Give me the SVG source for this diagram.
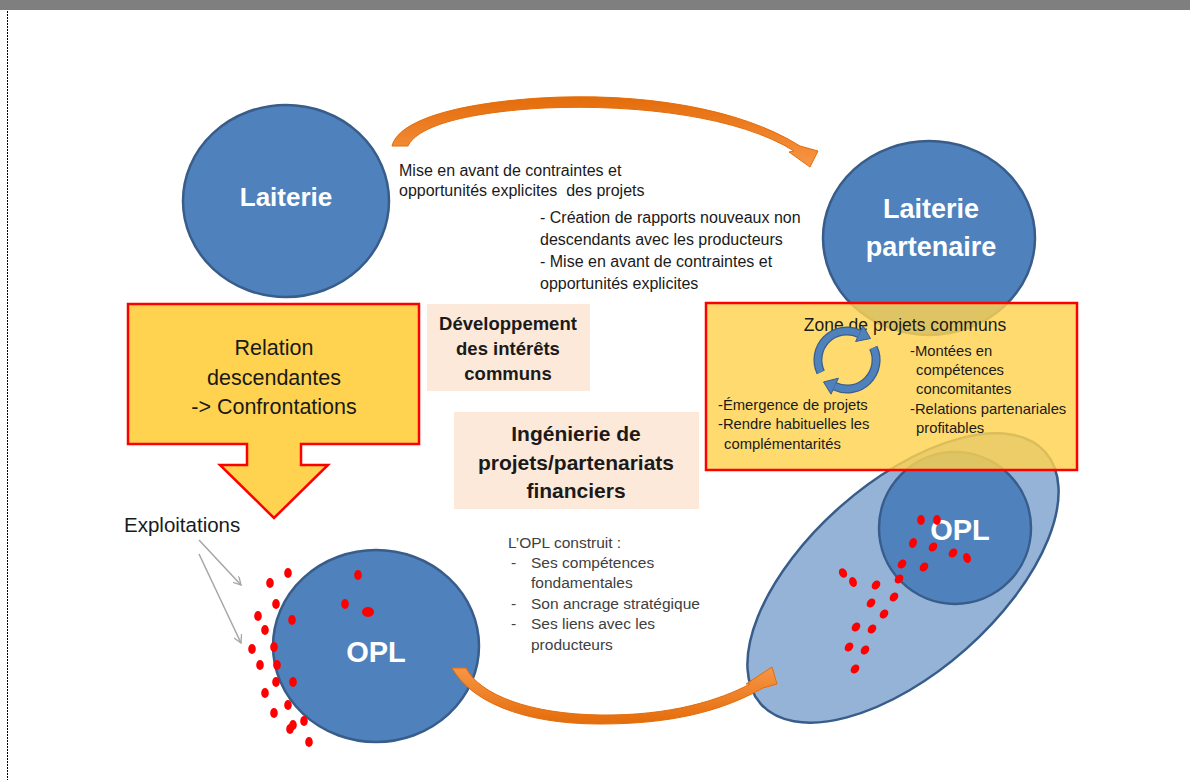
<svg xmlns="http://www.w3.org/2000/svg" width="1190" height="780" viewBox="0 0 1190 780">
<style>
.circ{fill:#4f81bd;stroke:#385d8a;stroke-width:2.5}
.yel{fill:#ffd34f;stroke:#ff0000;stroke-width:2.5}
.pink{fill:#fde9d9}
.t{font-family:"Liberation Sans",Arial,sans-serif;fill:#1a1a1a}
.wt{font-family:"Liberation Sans",Arial,sans-serif;fill:#ffffff;font-weight:bold;text-anchor:middle}
.b{font-weight:bold;text-anchor:middle}
.g{fill:#404040}
.dot{fill:#ff0000}
.orange{stroke:#e46c0a;stroke-width:1}
</style>
<defs>
<linearGradient id="og" x1="0" y1="0" x2="0" y2="1">
<stop offset="0" stop-color="#f79646"/>
<stop offset="1" stop-color="#e46c0a"/>
</linearGradient>
<linearGradient id="og2" x1="0" y1="0" x2="0" y2="1">
<stop offset="0" stop-color="#e46c0a"/>
<stop offset="1" stop-color="#f79646"/>
</linearGradient>
<marker id="ga" viewBox="0 0 10 10" refX="9" refY="5" markerWidth="9" markerHeight="9" markerUnits="userSpaceOnUse" orient="auto">
<path d="M0,0 L9,5 L0,10" fill="none" stroke="#a6a6a6" stroke-width="1.5"/>
</marker>
</defs>

<rect x="0" y="0" width="1190" height="10" fill="#7f7f7f"/>
<line x1="7.5" y1="11" x2="7.5" y2="780" stroke="#000" stroke-width="1" stroke-dasharray="2,1"/>

<g id="laiterie">
<ellipse class="circ" cx="286" cy="201" rx="103" ry="96"/>
<text class="wt" x="286" y="206" font-size="26">Laiterie</text>
</g>

<g id="laiterie-partenaire">
<ellipse class="circ" cx="929" cy="238" rx="106" ry="97"/>
<text class="wt" x="931" y="218" font-size="27">Laiterie</text>
<text class="wt" x="931" y="256" font-size="27">partenaire</text>
</g>

<g id="opl-gauche">
<ellipse class="circ" cx="376" cy="646" rx="103" ry="96"/>
<text class="wt" x="376" y="662" font-size="29">OPL</text>
</g>

<g id="opl-droite">
<ellipse cx="903" cy="578" rx="190" ry="95" transform="rotate(-41.5 903 578)" fill="#95b3d7" stroke="#385d8a" stroke-width="2.5"/>
<ellipse class="circ" cx="955" cy="528" rx="76" ry="76"/>
<text class="wt" x="960" y="540" font-size="29">OPL</text>
</g>

<g id="relation">
<path class="yel" d="M128,304 H419 V444 H301 V465 H328 L274,518 L220,465 H247 V444 H128 Z"/>
<text class="t" x="274" y="355" font-size="21.5" text-anchor="middle">Relation</text>
<text class="t" x="274" y="385" font-size="21.5" text-anchor="middle">descendantes</text>
<text class="t" x="274" y="414" font-size="21.5" text-anchor="middle">-&gt; Confrontations</text>
</g>

<g id="developpement">
<rect class="pink" x="427" y="304" width="163" height="87"/>
<text class="t b" x="508" y="330" font-size="18.5">Développement</text>
<text class="t b" x="508" y="355" font-size="18.5">des intérêts</text>
<text class="t b" x="508" y="380" font-size="18.5">communs</text>
</g>

<g id="ingenierie">
<rect class="pink" x="454" y="412" width="245" height="97"/>
<text class="t b" x="576" y="441" font-size="21">Ingénierie de</text>
<text class="t b" x="576" y="470" font-size="21">projets/partenariats</text>
<text class="t b" x="576" y="498" font-size="21">financiers</text>
</g>

<g id="texte-haut">
<text class="t" x="399" y="176" font-size="16">Mise en avant de contraintes et</text>
<text class="t" x="399" y="196" font-size="16" xml:space="preserve">opportunités explicites  des projets</text>
<text class="t" x="540" y="223" font-size="16">- Création de rapports nouveaux non</text>
<text class="t" x="540" y="245" font-size="16">descendants avec les producteurs</text>
<text class="t" x="540" y="267" font-size="16">- Mise en avant de contraintes et</text>
<text class="t" x="540" y="289" font-size="16">opportunités explicites</text>
</g>

<g id="opl-construit">
<text class="t g" x="508" y="548" font-size="15.5">L’OPL construit :</text>
<text class="t g" x="511" y="568" font-size="15.5">-</text>
<text class="t g" x="531" y="568" font-size="15.5">Ses compétences</text>
<text class="t g" x="531" y="588" font-size="15.5">fondamentales</text>
<text class="t g" x="511" y="609" font-size="15.5">-</text>
<text class="t g" x="531" y="609" font-size="15.5">Son ancrage stratégique</text>
<text class="t g" x="511" y="629" font-size="15.5">-</text>
<text class="t g" x="531" y="629" font-size="15.5">Ses liens avec les</text>
<text class="t g" x="531" y="650" font-size="15.5">producteurs</text>
</g>

<g id="zone">
<rect class="yel" x="706" y="303" width="371" height="167" fill-opacity="0.82"/>
<text class="t" x="905" y="331" font-size="17.5" text-anchor="middle">Zone de projets communs</text>
<g id="cycle" transform="translate(0,3)">
<path d="M820.7,369.3 A29,29 0 0 1 859.3,330.7" fill="none" stroke="#385d8a" stroke-width="9"/>
<path d="M873.3,344.7 A29,29 0 0 1 834.7,383.3" fill="none" stroke="#385d8a" stroke-width="9"/>
<polygon points="855.6,338.5 863,322.6 870.5,335.5" fill="#4f81bd" stroke="#385d8a" stroke-width="1"/>
<polygon points="838.4,375.2 831,391.2 823.5,379" fill="#4f81bd" stroke="#385d8a" stroke-width="1"/>
<path d="M820.7,369.3 A29,29 0 0 1 859.3,330.7" fill="none" stroke="#4f81bd" stroke-width="6.5"/>
<path d="M873.3,344.7 A29,29 0 0 1 834.7,383.3" fill="none" stroke="#4f81bd" stroke-width="6.5"/>
</g>
<text class="t" x="910" y="356" font-size="14.8">-Montées en</text>
<text class="t" x="916" y="375" font-size="14.8">compétences</text>
<text class="t" x="916" y="394" font-size="14.8">concomitantes</text>
<text class="t" x="910" y="414" font-size="14.8">-Relations partenariales</text>
<text class="t" x="916" y="433" font-size="14.8">profitables</text>
<text class="t" x="718" y="410" font-size="14.8">-Émergence de projets</text>
<text class="t" x="718" y="429" font-size="14.8">-Rendre habituelles les</text>
<text class="t" x="724" y="449" font-size="14.8">complémentarités</text>
</g>

<g id="exploitations">
<text class="t" x="124" y="532" font-size="20.5">Exploitations</text>
</g>

<g id="connecteurs">
<path class="orange" fill="url(#og2)" d="M392,146 C398,122 450,104 540,98 C640,92 740,108 800,146 L818,151 L810,167 L789,152 L794,151 C740,117 640,104 545,108 C470,112 418,125 408,146 Z"/>
<path class="orange" fill="url(#og)" d="M452,668 L466,668 C480,695 530,714 600,715 C670,716 720,700 750,684 L746,684 L772,667 L777,684 L763,688 C720,712 670,724 600,724 C520,724 470,700 452,668 Z"/>
<line x1="199" y1="540" x2="241" y2="585" stroke="#a6a6a6" stroke-width="1.5" marker-end="url(#ga)"/>
<line x1="199" y1="554" x2="241" y2="643" stroke="#a6a6a6" stroke-width="1.5" marker-end="url(#ga)"/>
</g>

<g id="points-gauche">
<ellipse class="dot" cx="288" cy="573" rx="3.8" ry="5"/>
<ellipse class="dot" cx="270" cy="583" rx="3.8" ry="5"/>
<ellipse class="dot" cx="276" cy="604" rx="3.8" ry="5"/>
<ellipse class="dot" cx="258" cy="616" rx="3.8" ry="5"/>
<ellipse class="dot" cx="292" cy="620" rx="3.8" ry="5"/>
<ellipse class="dot" cx="265" cy="630" rx="3.8" ry="5"/>
<ellipse class="dot" cx="274" cy="647" rx="3.8" ry="5"/>
<ellipse class="dot" cx="252" cy="649" rx="3.8" ry="5"/>
<ellipse class="dot" cx="260" cy="665" rx="3.8" ry="5"/>
<ellipse class="dot" cx="277" cy="665" rx="3.8" ry="5"/>
<ellipse class="dot" cx="276" cy="682" rx="3.8" ry="5"/>
<ellipse class="dot" cx="293" cy="682" rx="3.8" ry="5"/>
<ellipse class="dot" cx="265" cy="693" rx="3.8" ry="5"/>
<ellipse class="dot" cx="288" cy="705" rx="3.8" ry="5"/>
<ellipse class="dot" cx="274" cy="713" rx="3.8" ry="5"/>
<ellipse class="dot" cx="304" cy="721" rx="3.8" ry="5"/>
<ellipse class="dot" cx="293" cy="725" rx="3.8" ry="5"/>
<ellipse class="dot" cx="290" cy="729" rx="3.8" ry="5"/>
<ellipse class="dot" cx="309" cy="742" rx="3.8" ry="5"/>
<ellipse class="dot" cx="358" cy="575" rx="3.8" ry="5"/>
<ellipse class="dot" cx="345" cy="604" rx="3.8" ry="5"/>
<ellipse class="dot" cx="368" cy="612" rx="6" ry="5"/>
</g>

<g id="points-droite">
<ellipse class="dot" cx="921" cy="520" rx="3.8" ry="5"/>
<ellipse class="dot" cx="937" cy="520" rx="3.8" ry="5"/>
<ellipse class="dot" cx="913" cy="543" rx="3.8" ry="5" transform="rotate(20 913 543)"/>
<ellipse class="dot" cx="933" cy="547" rx="3.8" ry="5" transform="rotate(40 933 547)"/>
<ellipse class="dot" cx="953" cy="553" rx="3.8" ry="5" transform="rotate(40 953 553)"/>
<ellipse class="dot" cx="967" cy="558" rx="3.8" ry="5" transform="rotate(-20 967 558)"/>
<ellipse class="dot" cx="902" cy="564" rx="3.8" ry="5" transform="rotate(40 902 564)"/>
<ellipse class="dot" cx="924" cy="567" rx="3.8" ry="5" transform="rotate(40 924 567)"/>
<ellipse class="dot" cx="843" cy="573" rx="3.8" ry="5" transform="rotate(-30 843 573)"/>
<ellipse class="dot" cx="853" cy="582" rx="3.8" ry="5" transform="rotate(-20 853 582)"/>
<ellipse class="dot" cx="899" cy="579" rx="3.8" ry="5" transform="rotate(40 899 579)"/>
<ellipse class="dot" cx="876" cy="585" rx="3.8" ry="5" transform="rotate(40 876 585)"/>
<ellipse class="dot" cx="894" cy="597" rx="3.8" ry="5" transform="rotate(40 894 597)"/>
<ellipse class="dot" cx="871" cy="603" rx="3.8" ry="5" transform="rotate(40 871 603)"/>
<ellipse class="dot" cx="884" cy="614" rx="3.8" ry="5" transform="rotate(40 884 614)"/>
<ellipse class="dot" cx="856" cy="627" rx="3.8" ry="5" transform="rotate(40 856 627)"/>
<ellipse class="dot" cx="872" cy="629" rx="3.8" ry="5" transform="rotate(40 872 629)"/>
<ellipse class="dot" cx="849" cy="647" rx="3.8" ry="5" transform="rotate(40 849 647)"/>
<ellipse class="dot" cx="865" cy="650" rx="3.8" ry="5" transform="rotate(40 865 650)"/>
<ellipse class="dot" cx="855" cy="669" rx="3.8" ry="5" transform="rotate(40 855 669)"/>
</g>
</svg>
